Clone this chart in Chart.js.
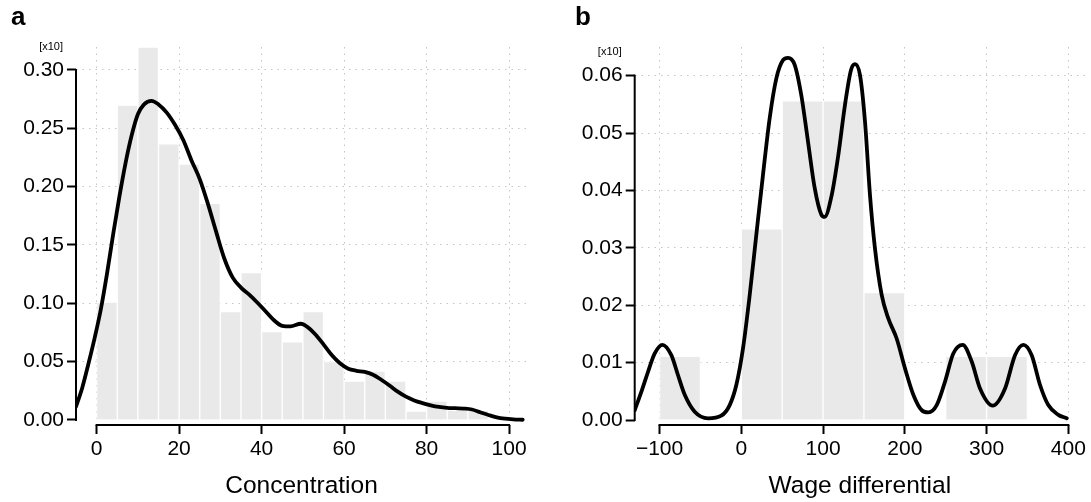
<!DOCTYPE html>
<html><head><meta charset="utf-8">
<script src="https://cdn.jsdelivr.net/npm/chart.js@4.4.0/dist/chart.umd.min.js"></script>
<style>
html,body{margin:0;padding:0;background:#fff;}
#wrap{position:relative;width:1091px;height:502px;overflow:hidden;background:#fff;}
canvas{position:absolute;top:0;}
#ca{left:0;} #cb{left:545px;}
</style></head><body>
<div id="wrap"><canvas id="ca" width="545" height="502"></canvas><canvas id="cb" width="546" height="502"></canvas></div>
<script>
// ---------- Panel a: Concentration ----------
const concBinCenters = [2.5,7.5,12.5,17.5,22.5,27.5,32.5,37.5,42.5,47.5,52.5,57.5,62.5,67.5,72.5,77.5,82.5,87.5,92.5,97.5];
const concBinValues  = [0.101,0.270,0.3197,0.2366,0.2194,0.1857,0.0929,0.1263,0.0757,0.0671,0.0929,0.050,0.0334,0.042,0.0334,0.0077,0.0163,0.0082,0.0082,0];
const concCurveX = [-5,-3.5,-2,-0.5,1,2.5,4,5.5,7,8.5,10,11.5,13.3,15,17,19,21,23,25,27,29,31,33,35,37,39,41,43,45,47,49.5,51,53,55,57,59,61,63,65,67,69,71,73,75,77,79,81,83,85,87,89,91,93,95,97,99,101,103.3];
const concCurveY = [0.0114,0.0275,0.048,0.070,0.0945,0.125,0.159,0.191,0.220,0.244,0.262,0.2705,0.2735,0.2705,0.2635,0.253,0.240,0.2225,0.2065,0.185,0.161,0.138,0.122,0.1135,0.1075,0.1005,0.093,0.0855,0.0807,0.0802,0.0825,0.080,0.0735,0.0648,0.0557,0.0486,0.0440,0.0422,0.0412,0.0388,0.0345,0.0296,0.0243,0.0200,0.0168,0.0145,0.0126,0.0112,0.0104,0.0101,0.0098,0.0090,0.0066,0.0043,0.0023,0.0012,0.0006,0.0002];
const concXTicks = [0,20,40,60,80,100];
const concXTickLabels = ['0','20','40','60','80','100'];
const concYTicks = [0,0.05,0.10,0.15,0.20,0.25,0.30];
const concYTickLabels = ['0.00','0.05','0.10','0.15','0.20','0.25','0.30'];

// ---------- Panel b: Wage differential ----------
const wageBinCenters = [-75,-25,25,75,125,175,225,275,325,375];
const wageBinValues  = [0.0111,0,0.0333,0.0556,0.0556,0.0222,0,0.0111,0.0111,0];
const wageCurveX = [-130.4,-122.3,-114.1,-105.9,-96.6,-85.6,-77.4,-69.2,-57,-40.7,-24.5,-14.2,-6.1,2.1,10.3,18.3,26.5,34.7,42.8,51,57.1,65.3,73.4,81.6,89.8,97.9,102,110.6,118.7,126.8,134.2,139.1,145.2,151.3,157.4,163.5,171.7,179.8,190,200.2,210.4,220.7,228.8,239,249.2,259.3,270.8,281.8,292,307.5,322.6,334.8,345,355.2,365.4,375.5,387.8,398];
const wageCurveY = [0.0017,0.0049,0.0084,0.0116,0.0131,0.0113,0.0078,0.0044,0.00145,0.0003,0.00075,0.0026,0.0061,0.0125,0.0218,0.0322,0.0427,0.0526,0.0595,0.0627,0.0631,0.0619,0.0566,0.0485,0.0404,0.0358,0.0354,0.0392,0.0462,0.0549,0.0610,0.0620,0.0601,0.0520,0.0392,0.0299,0.0218,0.0177,0.0142,0.0090,0.0044,0.0017,0.00134,0.0026,0.0067,0.0116,0.0131,0.0102,0.0055,0.0025,0.0055,0.0113,0.0131,0.0113,0.0061,0.0026,0.0009,0.0003];
const wageXTicks = [-100,0,100,200,300,400];
const wageXTickLabels = ['\u2212100','0','100','200','300','400'];
const wageYTicks = [0,0.01,0.02,0.03,0.04,0.05,0.06];
const wageYTickLabels = ['0.00','0.01','0.02','0.03','0.04','0.05','0.06'];

const FONT = "'Liberation Sans', Arial, Helvetica, sans-serif";
const GRID = '#c4c4c4';
const TICKLEN = 9, TICKPAD = 3;

const decor = {
  id: 'panelDecor',
  afterDraw(chart, args, opts) {
    const ctx = chart.ctx, x = chart.scales.x, y = chart.scales.y;
    const xt = x.ticks, yt = y.ticks;
    ctx.save();
    ctx.strokeStyle = '#000'; ctx.lineWidth = 2; ctx.lineCap = 'square';
    ctx.beginPath();
    ctx.moveTo(x.getPixelForValue(xt[0].value), x.top);
    ctx.lineTo(x.getPixelForValue(xt[xt.length-1].value), x.top);
    ctx.moveTo(y.right, y.getPixelForValue(yt[0].value));
    ctx.lineTo(y.right, y.getPixelForValue(yt[yt.length-1].value));
    ctx.stroke();
    ctx.font = '11px ' + FONT; ctx.fillStyle = '#000';
    ctx.textAlign = 'right'; ctx.textBaseline = 'middle';
    ctx.fillText(opts.mult, y.right - TICKLEN - TICKPAD - 1, y.getPixelForValue(yt[yt.length-1].value) - 23.5);
    ctx.restore();
  }
};

function buildChart(el, p) {
  const barData = p.binCenters.map((x, i) => ({x: x, y: p.binValues[i]}));
  const lineData = p.curveX.map((x, i) => ({x: x, y: p.curveY[i]}));
  return new Chart(el, {
    type: 'bar',
    data: { datasets: [
      { type: 'line', data: lineData, borderColor: '#000', borderWidth: 3.8, pointRadius: 0,
        cubicInterpolationMode: 'monotone', fill: false, order: 0, borderJoinStyle: 'round', borderCapStyle: 'round' },
      { type: 'bar', data: barData, backgroundColor: '#e9e9e9', borderColor: '#ffffff', borderWidth: 1,
        borderSkipped: 'start', categoryPercentage: 1, barPercentage: 1, order: 1 }
    ]},
    options: {
      responsive: false, animation: false, devicePixelRatio: 1,
      layout: { padding: { left: p.padLeft, right: p.padRight, top: 0, bottom: 0 } },
      plugins: {
        legend: { display: false }, tooltip: { enabled: false },
        title: { display: true, text: p.letter, align: 'start', color: '#000',
          font: { family: FONT, size: 26, weight: 'bold', lineHeight: 1.2 },
          padding: { top: 1.9, bottom: 13.9 } },
        panelDecor: { mult: '[x10]' }
      },
      scales: {
        x: { type: 'linear', min: p.xMin, max: p.xMax, offset: false, bounds: 'data',
          afterBuildTicks: s => { s.ticks = p.xTicks.map(v => ({value: v})); },
          afterFit: s => { s.height = 502 - 425; },
          ticks: { callback: (v, i) => p.xTickLabels[i], font: { family: FONT, size: 21 }, color: '#000',
            padding: 3, maxRotation: 0, autoSkip: false },
          grid: { offset: false, color: GRID, lineWidth: 1, tickColor: '#000', tickWidth: 2, tickLength: TICKLEN },
          border: { display: false, dash: [1.5, 5] },
          title: { display: true, text: p.xTitle, color: '#000', font: { family: FONT, size: 24.5 },
            padding: { top: 0, bottom: 0.8 } } },
        y: { type: 'linear', min: p.yMin, max: p.yMax, bounds: 'data',
          afterBuildTicks: s => { s.ticks = p.yTicks.map(v => ({value: v})); },
          afterFit: s => { s.width = p.yAxisWidth; },
          ticks: { callback: (v, i) => p.yTickLabels[i], font: { family: FONT, size: 21 }, color: '#000',
            padding: TICKPAD, autoSkip: false },
          grid: { color: c => (c.tick && c.tick.value === 0) ? 'rgba(0,0,0,0)' : GRID,
            lineWidth: 1, tickColor: '#000', tickWidth: 2, tickLength: TICKLEN },
          border: { display: false, dash: [1.5, 5] } }
      }
    },
    plugins: [decor]
  });
}

buildChart(document.getElementById('ca'), {
  letter: 'a', xTitle: 'Concentration',
  binCenters: concBinCenters, binValues: concBinValues, curveX: concCurveX, curveY: concCurveY,
  xTicks: concXTicks, xTickLabels: concXTickLabels, yTicks: concYTicks, yTickLabels: concYTickLabels,
  xMin: -5, xMax: 104.34, yMin: -0.004286, yMax: 0.3197,
  padLeft: 11, padRight: 18, yAxisWidth: 65
});
buildChart(document.getElementById('cb'), {
  letter: 'b', xTitle: 'Wage differential',
  binCenters: wageBinCenters, binValues: wageBinValues, curveX: wageCurveX, curveY: wageCurveY,
  xTicks: wageXTicks, xTickLabels: wageXTickLabels, yTicks: wageYTicks, yTickLabels: wageYTickLabels,
  xMin: -130.4, xMax: 420.4, yMin: -0.000871, yMax: 0.0650,
  padLeft: 30, padRight: 6, yAxisWidth: 59.7
});
</script>
</body></html>
